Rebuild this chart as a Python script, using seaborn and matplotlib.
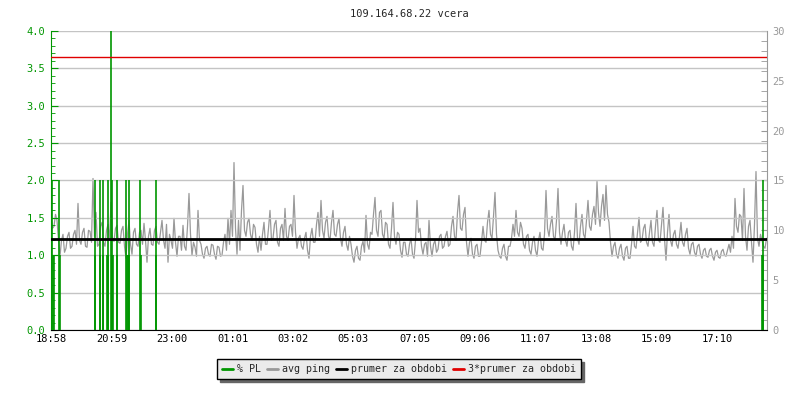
import numpy as np
import pandas as pd
import matplotlib
matplotlib.use("Agg")
import matplotlib.pyplot as plt
from matplotlib.lines import Line2D
import seaborn as sns

# --- data ---
title = "109.164.68.22 vcera"
tick_minutes = [0, 121, 242, 363, 484, 605, 727, 848, 969, 1090, 1211, 1332]
tick_labels = ["18:58", "20:59", "23:00", "01:01", "03:02", "05:03",
               "07:05", "09:06", "11:07", "13:08", "15:09", "17:10"]
span_minutes = 1432
sample_step = 6  # minutes between readings in each list below

# avg ping in ms, read every 6 minutes from 18:58
ping_ms = [
    11.2, 10.4, 11.0, 7.4, 9.6, 8.2, 9.8, 8.4, 10.0, 12.7,
    8.6, 10.2, 8.3, 9.9, 15.2, 11.8, 8.6, 10.8, 8.4, 10.6,
    12.8, 8.9, 10.5, 8.7, 10.4, 7.2, 11.0, 7.6, 10.2, 8.4,
    10.0, 10.7, 6.8, 10.2, 8.5, 10.4, 8.6, 11.0, 8.2, 6.8,
    9.0, 11.2, 7.4, 9.4, 10.5, 8.0, 13.7, 7.5, 8.3, 12.0,
    8.6, 7.2, 8.4, 7.4, 8.5, 7.1, 8.3, 7.5, 9.6, 11.2,
    12.0, 16.8, 7.6, 8.0, 14.5, 9.4, 11.2, 9.0, 10.3, 7.8,
    8.0, 10.8, 8.6, 12.0, 9.2, 11.0, 8.4, 10.6, 12.2, 9.0,
    10.6, 13.5, 8.2, 9.5, 8.1, 9.8, 7.2, 10.2, 8.8, 11.8,
    13.0, 9.2, 11.4, 9.0, 12.0, 9.4, 11.2, 8.4, 10.4, 8.0,
    8.6, 6.8, 8.4, 7.0, 8.9, 11.5, 8.1, 9.6, 13.3, 9.4,
    12.0, 9.2, 10.6, 8.2, 12.8, 8.6, 9.6, 7.3, 8.8, 7.4,
    9.2, 7.2, 13.0, 10.2, 7.6, 8.8, 11.0, 7.4, 9.0, 8.1,
    9.6, 8.4, 9.9, 8.6, 11.4, 9.0, 13.5, 10.0, 12.3, 7.4,
    9.2, 7.2, 8.6, 7.4, 10.4, 8.8, 12.0, 9.2, 13.8, 8.0,
    7.2, 8.6, 7.0, 8.4, 10.6, 12.0, 9.4, 10.2, 8.2, 9.6,
    7.6, 9.4, 7.4, 9.8, 8.0, 14.0, 9.4, 11.4, 9.0, 14.2,
    8.6, 10.6, 8.4, 10.0, 8.0, 12.7, 8.6, 11.6, 9.2, 13.0,
    10.0, 12.4, 14.9, 10.4, 13.6, 14.5, 10.8, 7.4, 8.8, 7.2,
    8.6, 7.0, 8.4, 7.2, 10.4, 8.2, 11.3, 9.0, 10.6, 8.4,
    11.0, 8.4, 12.0, 8.8, 12.3, 7.0, 11.6, 8.4, 10.0, 8.2,
    10.8, 8.4, 10.2, 7.6, 8.8, 7.4, 8.6, 7.2, 8.2, 7.3,
    8.2, 7.0, 8.0, 7.2, 8.1, 7.4, 8.6, 9.4, 13.2, 9.8,
    11.4, 14.2, 8.0, 11.0, 6.8, 15.9, 8.4, 9.0, 8.2,
]

# avg ping in ms, the readings 3 minutes after each of the above
ping_ms_mid = [
    10.2, 11.6, 9.0, 9.0, 7.8, 9.4, 8.2, 9.6, 8.6, 9.0,
    9.8, 8.4, 10.0, 8.8, 9.4, 8.4, 10.4, 8.8, 10.0, 9.0,
    9.2, 10.2, 8.8, 10.0, 8.4, 9.6, 8.6, 9.8, 8.6, 9.8,
    8.6, 9.0, 9.4, 8.6, 10.0, 8.8, 9.8, 9.0, 10.6, 9.6,
    8.2, 8.8, 9.4, 8.0, 8.4, 10.4, 9.6, 8.8, 7.4, 9.0,
    7.6, 8.2, 7.6, 8.6, 7.6, 8.4, 7.4, 8.8, 8.0, 8.6,
    9.4, 10.2, 11.0, 12.0, 10.0, 10.8, 9.6, 10.6, 8.6, 9.4,
    9.6, 8.6, 10.2, 9.0, 10.6, 8.8, 10.2, 9.0, 9.4, 10.4,
    9.4, 9.8, 9.2, 8.4, 9.2, 8.0, 9.4, 8.8, 10.6, 9.4,
    10.0, 10.8, 9.4, 10.8, 9.6, 10.6, 9.2, 9.8, 8.6, 9.4,
    7.4, 8.0, 7.2, 8.4, 7.8, 8.6, 9.8, 11.6, 10.0, 11.8,
    9.6, 10.8, 8.6, 10.2, 9.4, 9.8, 8.0, 8.8, 7.6, 8.6,
    7.6, 9.0, 9.8, 8.4, 8.6, 7.4, 8.4, 8.6, 7.8, 9.4,
    8.2, 9.4, 8.4, 10.4, 9.4, 11.8, 10.2, 11.6, 8.8, 8.8,
    7.6, 8.4, 7.4, 8.8, 9.0, 10.8, 9.6, 11.4, 9.6, 7.4,
    8.2, 7.4, 8.4, 9.2, 9.4, 9.8, 10.8, 8.6, 9.4, 8.0,
    8.8, 8.0, 9.0, 8.2, 9.6, 10.2, 10.6, 9.4, 11.0, 9.8,
    9.8, 9.0, 9.8, 8.4, 9.8, 9.2, 10.4, 9.6, 11.0, 10.4,
    11.6, 10.6, 11.8, 12.4, 11.0, 11.6, 8.8, 8.4, 7.6, 8.2,
    7.4, 8.2, 7.2, 8.6, 8.4, 9.8, 8.8, 10.2, 8.8, 9.8,
    8.8, 10.4, 9.0, 10.6, 9.2, 9.8, 9.0, 9.6, 8.6, 9.4,
    8.8, 9.6, 8.2, 8.6, 7.8, 8.4, 7.6, 8.0, 7.4, 8.0,
    7.4, 7.8, 7.3, 7.9, 7.5, 8.0, 7.8, 8.2, 10.4, 11.6,
    9.0, 9.4, 10.4, 8.8, 10.6, 9.2, 9.6, 8.4, 9.2,
]

# packet loss events: minute from 18:58 and % PL
pl_minutes = [2, 3, 5, 16, 17, 87, 88, 97, 98, 103, 104, 112, 113, 114,
              119, 121, 122, 123, 131, 132, 150, 151, 154, 155, 156,
              178, 179, 209, 210, 1422, 1423, 1424]
pl_values = [2, 1, 1, 2, 1, 2, 1, 2, 1, 2, 1, 1, 2, 1,
             4, 2, 1, 1, 2, 1, 2, 1, 1, 2, 1,
             2, 1, 2, 1, 1, 1, 2]

mean_ping = 9.12  # prumer za obdobi, ms
pl_top = 4.0
ping_top = 30

green = "#009600"
gray = "#999999"
red = "#e00000"
grid_col = "#c4c4c4"

t_main = np.arange(len(ping_ms)) * sample_step
t_mid = t_main + sample_step // 2
ping_df = pd.DataFrame({
    "minute": np.concatenate([t_main, t_mid]),
    "ping": ping_ms + ping_ms_mid,
}).sort_values("minute")

sns.set_style("white")
plt.rcParams["font.family"] = ["DejaVu Sans Mono"]

fig = plt.figure(figsize=(8, 4), dpi=100)
ax = fig.add_axes([51 / 800, 1 - 330 / 400, 716 / 800, 299 / 400])
ax2 = ax.twinx()
ax.set_zorder(ax2.get_zorder() + 1)
ax.patch.set_visible(False)

# avg ping on the right axis
sns.lineplot(data=ping_df, x="minute", y="ping", ax=ax2, color=gray,
             linewidth=0.9, sort=False)
ax2.set_ylim(0, ping_top)
ax2.set_xlabel("")
ax2.set_ylabel("")

# packet loss bars on the left axis
ax.vlines(pl_minutes, 0, pl_values, color=green, linewidth=1.2, zorder=3)
scale = ping_top / pl_top
ax.axhline(mean_ping / scale, color="black", linewidth=2, zorder=4)
ax.axhline(3 * mean_ping / scale, color=red, linewidth=1, zorder=4)
ax.set_ylim(0, pl_top)
ax.set_xlim(0, span_minutes)

ax.set_yticks(np.arange(0, 4.01, 0.5))
ax.set_yticks(np.arange(0, 4.01, 0.1), minor=True)
ax.set_yticklabels([f"{v:.1f}" for v in np.arange(0, 4.01, 0.5)])
ax.yaxis.grid(True, color=grid_col, linewidth=1)
ax.set_xticks(tick_minutes)
ax.set_xticklabels(tick_labels)
ax.tick_params(axis="y", which="both", direction="in", colors=green,
               labelsize=7.5, pad=4)
ax.tick_params(axis="y", which="major", length=5)
ax.tick_params(axis="y", which="minor", length=3)
ax.tick_params(axis="x", direction="in", length=5, colors="black",
               labelsize=7.5, pad=3)

ax2.set_yticks(range(0, 31, 5))
ax2.set_yticks(range(0, 31, 1), minor=True)
ax2.tick_params(axis="y", which="both", direction="in", colors=gray,
                labelsize=7.5, length=4, pad=4)
ax2.set_xlim(0, span_minutes)

for a in (ax, ax2):
    a.spines["top"].set_visible(False)
ax.spines["right"].set_visible(False)
ax2.spines["left"].set_visible(False)
ax2.spines["bottom"].set_visible(False)
ax.spines["left"].set_color(green)
ax.spines["bottom"].set_color("black")
ax2.spines["right"].set_color(gray)

ax.set_title(title, fontsize=7.5, pad=10)

handles = [Line2D([], [], color=green, lw=2),
           Line2D([], [], color=gray, lw=2),
           Line2D([], [], color="black", lw=2),
           Line2D([], [], color=red, lw=2)]
labels = ["% PL", "avg ping", "prumer za obdobi", "3*prumer za obdobi"]
leg = fig.legend(handles, labels, loc="center", bbox_to_anchor=(0.499, 0.0775),
                 ncol=4, frameon=True, fancybox=False,
                 shadow={"color": "#666666", "alpha": 1},
                 fontsize=7.2, handlelength=1.1, handletextpad=0.4,
                 columnspacing=0.6, borderpad=0.5)
leg.get_frame().set_facecolor("#ebebeb")
leg.get_frame().set_edgecolor("black")
leg.get_frame().set_linewidth(1)

fig.savefig("out.png", dpi=100)
